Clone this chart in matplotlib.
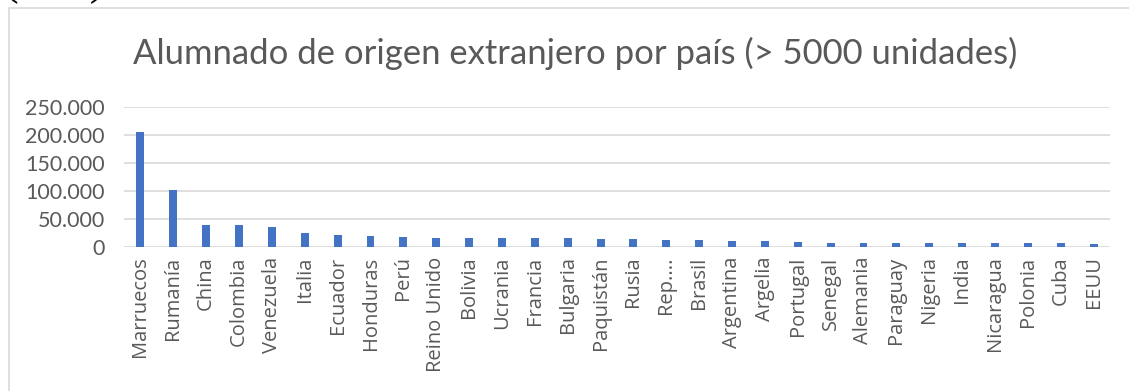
import matplotlib
matplotlib.use("Agg")
import matplotlib.pyplot as plt
from matplotlib.patches import Rectangle
from matplotlib.ticker import FuncFormatter

countries = ["Marruecos", "Rumanía", "China", "Colombia", "Venezuela", "Italia",
             "Ecuador", "Honduras", "Perú", "Reino Unido", "Bolivia", "Ucrania",
             "Francia", "Bulgaria", "Paquistán", "Rusia", "Rep....", "Brasil",
             "Argentina", "Argelia", "Portugal", "Senegal", "Alemania", "Paraguay",
             "Nigeria", "India", "Nicaragua", "Polonia", "Cuba", "EEUU"]
students = [205000, 101000, 38700, 38700, 34600, 23900,
            20800, 19600, 17300, 16100, 16100, 15000,
            15000, 15000, 13700, 13100, 11900, 11900,
            10100, 10100, 8300, 7100, 7100, 7100,
            7100, 7100, 6500, 6500, 5800, 5200]
y_ticks = [0, 50000, 100000, 150000, 200000, 250000]
title = "Alumnado de origen extranjero por país (> 5000 unidades)"

W, H = 1129, 391
fig = plt.figure(figsize=(W / 100, H / 100), dpi=100)
fig.patch.set_facecolor("white")

# outer chart border
fig.patches.append(Rectangle((9 / W, -0.2), 1.2, (H - 8) / H + 0.2,
                             transform=fig.transFigure, fill=False,
                             edgecolor="#d9d9d9", lw=1.2, clip_on=False))
# clipped text above the chart
fig.text(3 / W, 1 + 6 / H, "( … )", fontsize=34, family="Liberation Serif",
         color="black", ha="left", va="baseline")

ax = fig.add_axes([124 / W, (H - 246.7) / H, (1110 - 124) / W, 140 / H])
x = list(range(len(countries)))
ax.bar(x, students, width=0.24, color="#4472C4", zorder=3)
ax.set_xlim(-0.5, len(countries) - 0.5)
ax.set_ylim(0, 250000)
ax.set_yticks(y_ticks)
ax.yaxis.set_major_formatter(FuncFormatter(lambda v, p: f"{int(v):,}".replace(",", ".")))
for v in y_ticks:
    ax.axhline(v, color="#d9d9d9", lw=1.2, zorder=1)
for s in ax.spines.values():
    s.set_visible(False)
ax.set_xticks(x)
ax.set_xticklabels(countries, rotation=90, fontsize=14.5, family="Open Sans",
                   color="#595959")
ax.tick_params(axis="x", length=0, pad=7)
ax.tick_params(axis="y", length=0, pad=14, labelsize=15.5, labelcolor="#595959")
for lab in ax.get_yticklabels():
    lab.set_family("Lato")

fig.text(575 / W, (H - 64) / H, title, ha="center", va="baseline",
         fontsize=24.9, family="Lato", color="#595959")

fig.savefig("out.png", dpi=100)
